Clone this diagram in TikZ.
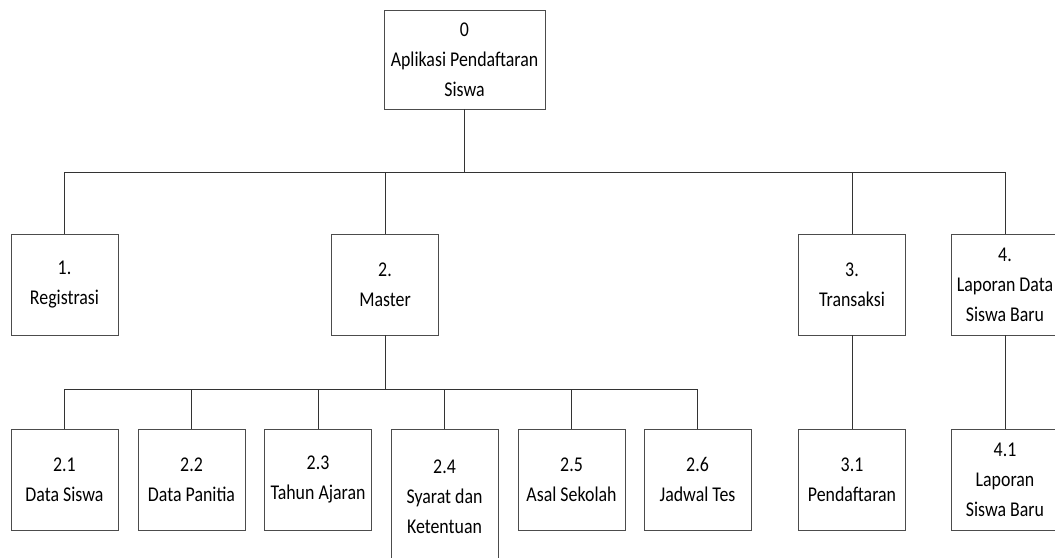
\documentclass[tikz,border=0pt]{standalone}
\usepackage{fontspec}
\setmainfont{Carlito}[FakeStretch=0.85]
\begin{document}
\begin{tikzpicture}[x=1pt,y=-1pt,
  box/.style={draw=black!70, line width=0.9pt, fill=white, align=center,
    inner sep=0pt, minimum width=107pt, minimum height=101pt,
    font=\fontsize{21}{30}\selectfont},
  link/.style={draw=black!80, line width=0.9pt}]
\useasboundingbox[fill=white] (0,0) rectangle (1055,557);

% root
\node[box, minimum width=161pt, minimum height=99pt] (top) at (464.5,59.5) {0\\Aplikasi Pendaftaran\\Siswa};

% first level
\node[box] (n1) at (64.5,284.5) {1.\\Registrasi};
\node[box] (n2) at (385,284.5) {2.\\Master};
\node[box] (n3) at (852,284.5) {3.\\Transaksi};
\node[box] (n4) at (1005,284.5) {4.\\Laporan Data\\Siswa Baru};

% second level
\node[box] (n21) at (64.5,479.5) {2.1\\Data Siswa};
\node[box] (n22) at (191.5,479.5) {2.2\\Data Panitia};
\node[box] (n23) at (318,479.5) {2.3\\Tahun Ajaran};
\node[box, minimum height=134pt, anchor=north] (n24) at (444.5,429) {2.4\\Syarat dan\\Ketentuan};
\node[box] (n25) at (571.5,479.5) {2.5\\Asal Sekolah};
\node[box] (n26) at (697.5,479.5) {2.6\\Jadwal Tes};
\node[box] (n31) at (852,479.5) {3.1\\Pendaftaran};
\node[box] (n41) at (1005,479.5) {4.1\\Laporan\\Siswa Baru};

% bus levels
\coordinate (busA) at (0,172);
\coordinate (busB) at (0,389);

% root to first level
\draw[link] (top.south) -- (top.south |- busA);
\draw[link] (n1.north) |- (busA -| n4.north) -- (n4.north);
\draw[link] (n2.north) -- (n2.north |- busA);
\draw[link] (n3.north) -- (n3.north |- busA);

% master to its children
\draw[link] (n2.south) -- (n2.south |- busB);
\draw[link] (n21.north) |- (busB -| n26.north) -- (n26.north);
\foreach \k in {n22,n23,n24,n25}
  \draw[link] (\k.north) -- (\k.north |- busB);

% transaction and report children
\draw[link] (n3.south) -- (n31.north);
\draw[link] (n4.south) -- (n41.north);
\end{tikzpicture}
\end{document}
